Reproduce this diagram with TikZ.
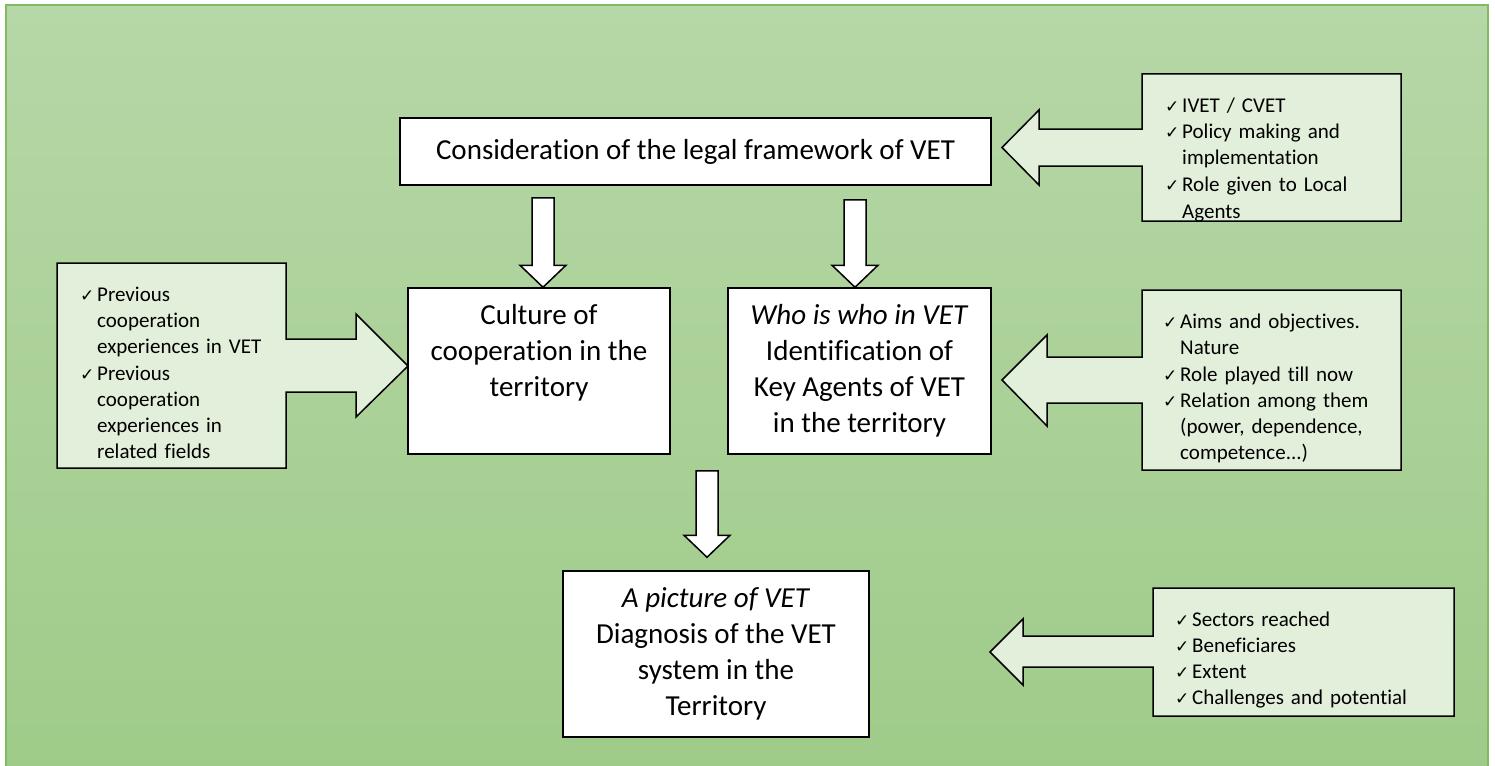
\documentclass[tikz,border=0pt]{standalone}
\usepackage{fontspec}
\setmainfont{Carlito}[Ligatures=NoCommon]
\newfontfamily\ckfont{DejaVu Sans}
\usetikzlibrary{calc}
\definecolor{calfill}{HTML}{E2EFDA}
\definecolor{bgtop}{HTML}{B6D7A7}
\definecolor{bgbot}{HTML}{9FCB89}
\definecolor{bgedge}{HTML}{82BA62}
\newcommand{\ckitem}[1]{\par\noindent\makebox[17pt][l]{\ckfont\fontsize{17}{17}\selectfont ✓}%
  \parbox[t]{240pt}{\raggedright\strut#1\strut}\par}
\newcommand{\vblock}[2]{%
  \draw[blockarrow] let \p1=(#1), \p2=(#2) in
    (\x2-11pt,\y1) -- (\x2+11pt,\y1) -- (\x2+11pt,\y2+22pt) -- (\x2+23pt,\y2+22pt)
    -- (\x2,\y2) -- (\x2-23pt,\y2+22pt) -- (\x2-11pt,\y2+22pt) -- cycle;}
\tikzset{
  mainbox/.style={draw=black, fill=white, line width=1.5pt, inner sep=0pt, align=center,
    font=\fontsize{29}{36}\selectfont},
  blockarrow/.style={draw=black, fill=white, line width=1.5pt, line join=miter},
  callout/.style={draw=black, fill=calfill, line width=1.5pt, line join=miter},
  callouttext/.style={anchor=north west, inner sep=0pt, text width=260pt,
    font=\fontsize{21}{26}\selectfont}
}
\begin{document}
\begin{tikzpicture}[x=1pt, y=-1pt]
\useasboundingbox (0,0) rectangle (1495,765);
% background
\shade[top color=bgtop, bottom color=bgbot] (6,5) rectangle (1488,775);
\draw[bgedge, line width=2pt] (6,775) -- (6,5) -- (1488,5) -- (1488,775);

% main boxes
\node[mainbox, minimum width=591pt, minimum height=67pt] (top) at (695.5,151.5)
  {Consideration of the legal framework of VET};
\node[mainbox, minimum width=262pt, minimum height=166pt] (cult) at (539,371)
  {Culture of\\cooperation in the\\territory\\\phantom{y}};
\node[mainbox, minimum width=263pt, minimum height=166pt] (who) at (859.5,371)
  {\textit{Who is who in VET}\\Identification of\\Key Agents of VET\\in the territory};
\node[mainbox, minimum width=306pt, minimum height=166pt] (pic) at (716,654)
  {\textit{A picture of VET}\\Diagnosis of the VET\\system in the\\Territory};

% vertical block arrows
\vblock{$(top.south -| cult.north)+(4,12)$}{$(cult.north)+(4,0)$}
\vblock{$(top.south -| who.north)+(-4.5,14)$}{$(who.north)+(-4.5,0)$}
\vblock{$(cult.south -| pic.north)+(-9,16)$}{$(pic.north)+(-9,-13)$}

% callouts
\draw[callout] (1142,74) -- (1401,74) -- (1401,221) -- (1142,221) -- (1142,166)
  -- (1039,166) -- (1039,185) -- (1002,147.5) -- (1039,110) -- (1039,129) -- (1142,129) -- cycle;
\draw[callout] (1142,290) -- (1401,290) -- (1401,470) -- (1142,470) -- (1142,403)
  -- (1047,403) -- (1047,426) -- (1002,380) -- (1047,335) -- (1047,357) -- (1142,357) -- cycle;
\draw[callout] (57,263) -- (286,263) -- (286,339) -- (356,339) -- (356,314) -- (408,366)
  -- (356,417) -- (356,392) -- (286,392) -- (286,468) -- (57,468) -- cycle;
\draw[callout] (1153,588) -- (1454,588) -- (1454,716) -- (1153,716) -- (1153,667)
  -- (1023,667) -- (1023,685) -- (990,652) -- (1023,619) -- (1023,636) -- (1153,636) -- cycle;

% callout texts
\node[callouttext] (legaltxt) at (1165,86.8) {%
  \ckitem{IVET / CVET}\ckitem{Policy making and\\implementation}\ckitem{Role given to Local\\Agents}};
\node[callouttext] (agenttxt) at (1163,301.8) {%
  \ckitem{Aims and objectives.\\Nature}\ckitem{Role played till now}\ckitem{Relation among them\\(power, dependence,\\competence...)}};
\node[callouttext] (coopttxt) at (80,274.8) {%
  \ckitem{Previous\\cooperation\\experiences in VET}\ckitem{Previous\\cooperation\\experiences in\\related fields}};
\node[callouttext] (diagtxt) at (1175,599.8) {%
  \ckitem{Sectors reached}\ckitem{Beneficiares}\ckitem{Extent}\ckitem{Challenges and potential}};
\end{tikzpicture}
\end{document}
